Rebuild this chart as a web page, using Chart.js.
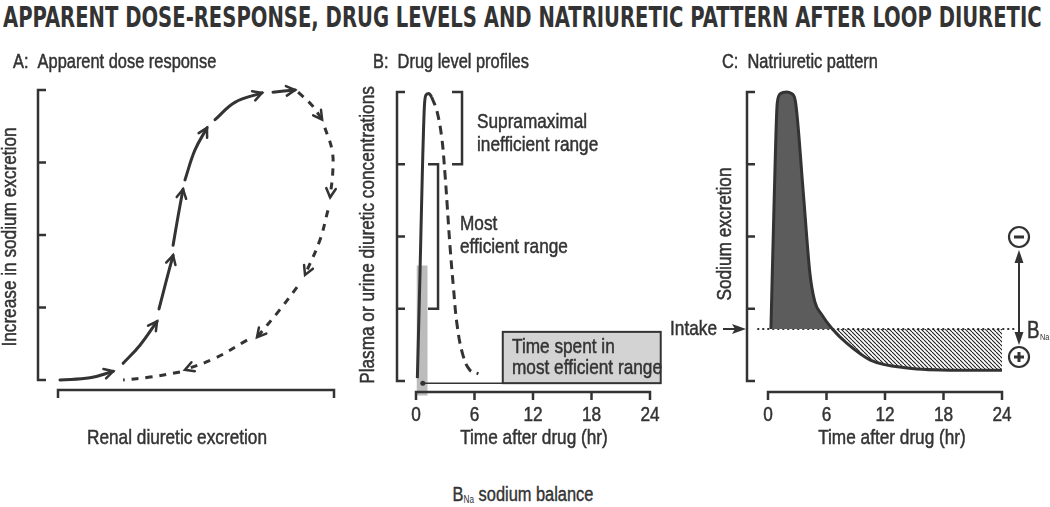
<!DOCTYPE html>
<html>
<head>
<meta charset="utf-8">
<script src="https://cdn.jsdelivr.net/npm/chart.js@4.4.1/dist/chart.umd.min.js"></script>
<style>
  html, body { margin: 0; padding: 0; background: #fff; }
  #page { position: relative; width: 1050px; height: 507px; overflow: hidden; color: #333; }
  #page canvas { position: absolute; }
  #title { position: absolute; left: 3px; top: 2px; white-space: nowrap; font-weight: bold;
           font-family: "DejaVu Sans Condensed", sans-serif;
           font-size: 28px; line-height: 32px; transform-origin: 0 0; }
  #foot { position: absolute; left: 523px; top: 483px; white-space: nowrap; font-size: 20px;
          font-family: "Liberation Sans", Arial, sans-serif; -webkit-text-stroke: 0.4px #333;
          transform: translateX(-50%) scaleX(0.82); }
  #foot sub { font-size: 10px; vertical-align: -2px; -webkit-text-stroke: 0; }
</style>
</head>
<body>
<div id="page">
  <div id="title">APPARENT DOSE-RESPONSE, DRUG LEVELS AND NATRIURETIC PATTERN AFTER LOOP DIURETIC</div>
  <canvas id="panelA"></canvas>
  <canvas id="panelB"></canvas>
  <canvas id="panelC"></canvas>
  <div id="foot">B<sub>Na</sub> sodium balance</div>
</div>
<script>
// ── DATA ──────────────────────────────────
// A: apparent dose response (null = break where an arrowhead sits)
const riseX = [0.07, 1.16, 2.0, null, 2.36, 2.97, 3.59, null, 3.66, 3.91, 4.17, null, 4.17, 4.35, 4.53, null,
               4.60, 4.96, 5.40, null, 5.69, 6.41, 7.39, null, 7.79, 8.59];
const riseY = [0, 0.03, 0.12, null, 0.23, 0.48, 0.81, null, 0.98, 1.35, 1.72, null, 1.86, 2.26, 2.63, null,
               2.76, 3.17, 3.48, null, 3.59, 3.83, 3.96, null, 3.97, 4.0];
const fallX = [8.70, 9.20, 9.57, null, 9.67, 9.93, 9.96, 9.86, null, 9.78, 9.49, 8.95, null, 8.66, 8.04, 7.21, null,
               6.85, 5.69, 4.60, null, 4.42, 3.33, 2.36];
const fallY = [3.97, 3.79, 3.59, null, 3.48, 3.17, 2.90, 2.52, null, 2.34, 1.93, 1.45, null, 1.28, 0.97, 0.59, null,
               0.55, 0.30, 0.14, null, 0.11, 0.04, 0.0];
const doseTicksX = [0, 10];
const levelTicks = [0, 1, 2, 3, 4];
const hourTicks = [0, 6, 12, 18, 24];

// B: drug level profiles
const plasmaT = [0.14, 0.41, 0.65, 0.86, 1.03, 1.33, 1.6];
const plasmaC = [0.04, 1.49, 2.88, 3.80, 3.96, 3.98, 3.93];
const urineT = [1.6, 2.12, 2.63, 2.97, 3.21, 3.49, 3.83, 4.24, 4.85, 5.54, 6.4];
const urineC = [3.93, 3.75, 3.38, 2.87, 2.41, 1.86, 1.31, 0.75, 0.34, 0.15, 0.10];
const supraRange = [3, 4];
const efficientRange = [1, 3];
const efficientTime = [0.05, 1.2];
const efficientBand = [-0.2, 1.6];
const efficientMark = [0.7, -0.03];

// C: natriuretic pattern
const natriT = [0.3, 0.65, 0.95, 1.3, 1.9, 2.4, 2.8, 3.6, 4.3, 4.8, 5.5, 6.6, 8.1, 10.5, 14.3, 19.4, 24];
const natriY = [0.72, 2.6, 3.85, 3.98, 4.0, 3.98, 3.88, 2.64, 1.49, 1.1, 0.92, 0.72, 0.52, 0.29, 0.18, 0.15, 0.15];
const intakeLevel = 0.72;

// ── HELPERS ───────────────────────────────
const INK = '#333333';
const FONT = '"Liberation Sans", Arial, sans-serif';
const NARROW = 0.82;

function pts(xs, ys) {
  let lastX = 0;
  return xs.map((x, i) => {
    if (x !== null) lastX = x;
    return { x: lastX, y: ys[i] };
  });
}

// narrow text: Arial metrics squeezed like Arial Narrow, lightly stroked
function text(ctx, str, x, y, size, o = {}) {
  ctx.save();
  ctx.fillStyle = INK;
  ctx.strokeStyle = INK;
  ctx.lineWidth = 0.5;
  ctx.font = `${o.weight || 'normal'} ${size}px ${FONT}`;
  ctx.textAlign = o.align || 'left';
  ctx.textBaseline = 'middle';
  ctx.translate(x, y);
  if (o.rotate) ctx.rotate(o.rotate);
  ctx.scale(NARROW, 1);
  ctx.fillText(str, 0, 0);
  if (size > 12) ctx.strokeText(str, 0, 0);
  ctx.restore();
}

// value v0 at pixel p0 and v1 at pixel p1, canvas runs 0..size
function scaleRange(v0, v1, p0, p1, size) {
  const k = (v1 - v0) / (p1 - p0);
  const a = v0 - p0 * k, b = v0 + (size - p0) * k;
  return a < b ? { min: a, max: b } : { min: b, max: a };
}

// brackets, ticks and panel texts (texts given in page coordinates)
const frame = {
  id: 'frame',
  afterDatasetsDraw(chart, _a, o) {
    const { ctx, scales: { x, y } } = chart;
    ctx.save();
    ctx.strokeStyle = INK;
    ctx.lineWidth = 2.5;
    ctx.setLineDash([]);
    const bx = x.getPixelForValue(o.xTicks[0]) - o.yGap;
    const yTop = y.getPixelForValue(o.yTicks[o.yTicks.length - 1]);
    const yBot = y.getPixelForValue(o.yTicks[0]);
    ctx.beginPath();
    ctx.moveTo(bx, yTop); ctx.lineTo(bx, yBot);
    o.yTicks.forEach(v => {
      const py = y.getPixelForValue(v);
      ctx.moveTo(bx - 1.25, py); ctx.lineTo(bx + 8, py);
    });
    const ay = y.getPixelForValue(0) + o.xGap;
    const x0 = x.getPixelForValue(o.xTicks[0]);
    const x1 = x.getPixelForValue(o.xTicks[o.xTicks.length - 1]);
    ctx.moveTo(x0 - 1.25, ay); ctx.lineTo(x1 + 1.25, ay);
    o.xTicks.forEach(v => {
      const px = x.getPixelForValue(v);
      ctx.moveTo(px, ay); ctx.lineTo(px, ay + 8);
    });
    ctx.stroke();
    if (o.xLabels) o.xTicks.forEach(v => text(ctx, String(v), x.getPixelForValue(v), ay + 23, 21, { align: 'center' }));
    (o.texts || []).forEach(t => text(ctx, t.t, t.x - o.rect.left, t.y - o.rect.top, t.size || 21, t));
    ctx.restore();
  }
};

// open arrowheads at the end of each line piece
const arrowHeads = {
  id: 'arrowHeads',
  afterDatasetsDraw(chart) {
    const ctx = chart.ctx;
    chart.data.datasets.forEach((ds, i) => {
      if (!ds.arrowHeads) return;
      const p = chart.getDatasetMeta(i).data;
      ctx.save();
      ctx.strokeStyle = INK;
      ctx.lineWidth = 2.5;
      ctx.setLineDash([]);
      ctx.lineCap = 'round';
      p.forEach((pt, j) => {
        if (pt.skip) return;
        const nxt = p[j + 1];
        if (nxt && !nxt.skip) return;
        if (!nxt && ds.noLastArrow) return;
        const prv = p[j - 1];
        if (!prv || prv.skip) return;
        const ang = Math.atan2(pt.y - prv.y, pt.x - prv.x);
        const L = 10, spread = 0.5;
        ctx.beginPath();
        ctx.moveTo(pt.x - L * Math.cos(ang - spread), pt.y - L * Math.sin(ang - spread));
        ctx.lineTo(pt.x, pt.y);
        ctx.lineTo(pt.x - L * Math.cos(ang + spread), pt.y - L * Math.sin(ang + spread));
        ctx.stroke();
      });
      ctx.restore();
    });
  }
};

function makePanel(id, rect, xr, yr, datasets, frameOpts, extraPlugins) {
  const cv = document.getElementById(id);
  cv.width = rect.width; cv.height = rect.height;
  cv.style.left = rect.left + 'px'; cv.style.top = rect.top + 'px';
  const xs = scaleRange(xr[0], xr[1], rect.x0 - rect.left, rect.x1 - rect.left, rect.width);
  const ys = scaleRange(yr[0], yr[1], rect.y0 - rect.top, rect.y1 - rect.top, rect.height);
  return new Chart(cv, {
    type: 'line',
    data: { datasets },
    options: {
      responsive: false,
      animation: false,
      devicePixelRatio: 1,
      layout: { padding: 0 },
      elements: { point: { radius: 0 } },
      scales: {
        x: { type: 'linear', display: false, min: xs.min, max: xs.max },
        y: { type: 'linear', display: false, min: ys.min, max: ys.max }
      },
      plugins: {
        legend: { display: false },
        tooltip: { enabled: false },
        frame: Object.assign({ rect }, frameOpts)
      }
    },
    plugins: [frame].concat(extraPlugins || [])
  });
}

// ── PANEL A ───────────────────────────────
const rectA = { left: 0, top: 40, width: 350, height: 420, x0: 58, x1: 334, y0: 380, y1: 90 };
makePanel('panelA', rectA, [0, 10], [0, 4], [
  { data: pts(riseX, riseY), borderColor: INK, borderWidth: 3, tension: 0.4, fill: false, spanGaps: false,
    borderCapStyle: 'round', arrowHeads: true },
  { data: pts(fallX, fallY), borderColor: INK, borderWidth: 3, tension: 0.4, fill: false, spanGaps: false,
    borderDash: [7, 7], arrowHeads: true, noLastArrow: true }
], {
  yTicks: levelTicks, xTicks: doseTicksX, yGap: 20, xGap: 10, xLabels: false,
  texts: [
    { t: 'A:  Apparent dose response', x: 13, y: 62, size: 20 },
    { t: 'Increase in sodium excretion', x: 10, y: 237, rotate: -Math.PI / 2, align: 'center' },
    { t: 'Renal diuretic excretion', x: 177, y: 438, align: 'center' }
  ]
}, [arrowHeads]);

// ── PANEL B ───────────────────────────────
const rectB = { left: 355, top: 40, width: 330, height: 420, x0: 416, x1: 650, y0: 381, y1: 92 };
const drugNotes = {
  id: 'drugNotes',
  beforeDatasetsDraw(chart) {
    // box and its link sit under the curves
    const { ctx, scales: { x, y } } = chart;
    const my = y.getPixelForValue(efficientMark[1]);
    const bx0 = x.getPixelForValue(8.9), bx1 = x.getPixelForValue(25.1);
    const by1 = y.getPixelForValue(0.68);
    ctx.save();
    ctx.fillStyle = '#d3d3d3';
    ctx.fillRect(bx0, by1, bx1 - bx0, my - by1);
    ctx.strokeStyle = INK;
    ctx.lineWidth = 2;
    ctx.strokeRect(bx0, by1, bx1 - bx0, my - by1);
    ctx.restore();
  },
  afterDatasetsDraw(chart) {
    const { ctx, scales: { x, y } } = chart;
    ctx.save();
    ctx.strokeStyle = INK;
    ctx.lineWidth = 2.5;
    const bracket = (xv, range) => {
      const px = x.getPixelForValue(xv);
      const t = y.getPixelForValue(range[1]), b = y.getPixelForValue(range[0]);
      ctx.beginPath();
      ctx.moveTo(px - 10, t); ctx.lineTo(px, t); ctx.lineTo(px, b); ctx.lineTo(px - 10, b);
      ctx.stroke();
    };
    bracket(4.72, supraRange);
    bracket(2.26, efficientRange);
    const my = y.getPixelForValue(efficientMark[1]);
    const mx = x.getPixelForValue(efficientMark[0]);
    ctx.lineWidth = 1.5;
    ctx.beginPath(); ctx.moveTo(mx, my); ctx.lineTo(x.getPixelForValue(8.9), my); ctx.stroke();
    ctx.fillStyle = INK;
    ctx.beginPath(); ctx.arc(mx, my, 2.5, 0, Math.PI * 2); ctx.fill();
    ctx.restore();
  }
};
makePanel('panelB', rectB, [0, 24], [0, 4], [
  { data: pts(plasmaT, plasmaC), borderColor: INK, borderWidth: 3, cubicInterpolationMode: 'monotone', fill: false },
  { data: pts(urineT, urineC), borderColor: INK, borderWidth: 3, tension: 0.4, fill: false, borderDash: [9, 6] },
  { data: [{ x: efficientTime[0], y: efficientBand[1] }, { x: efficientTime[1], y: efficientBand[1] }], borderWidth: 0,
    backgroundColor: '#bcbcbc', fill: { value: efficientBand[0] }, order: 10 }
], {
  yTicks: levelTicks, xTicks: hourTicks, yGap: 19, xGap: 11, xLabels: true,
  texts: [
    { t: 'B:  Drug level profiles', x: 373, y: 62, size: 20 },
    { t: 'Plasma or urine diuretic concentrations', x: 368, y: 235, rotate: -Math.PI / 2, align: 'center' },
    { t: 'Time after drug (hr)', x: 534, y: 438, align: 'center' },
    { t: 'Supramaximal', x: 477, y: 122 },
    { t: 'inefficient range', x: 477, y: 145 },
    { t: 'Most', x: 460, y: 224 },
    { t: 'efficient range', x: 460, y: 247 },
    { t: 'Time spent in', x: 512, y: 347 },
    { t: 'most efficient range', x: 512, y: 368 }
  ]
}, [drugNotes]);

// ── PANEL C ───────────────────────────────
const rectC = { left: 640, top: 40, width: 410, height: 420, x0: 768, x1: 1002, y0: 381, y1: 92 };
const cvC = document.getElementById('panelC');
const hatch = (() => {
  const c = document.createElement('canvas');
  c.width = 4; c.height = 4;
  const g = c.getContext('2d');
  g.strokeStyle = '#222';
  g.lineWidth = 1.1;
  [-4, 0, 4].forEach(o => { g.beginPath(); g.moveTo(o, 0); g.lineTo(o + 4, 4); g.stroke(); });
  return cvC.getContext('2d').createPattern(c, 'repeat');
})();

const balanceNotes = {
  id: 'balanceNotes',
  beforeDatasetsDraw(chart) {
    const { ctx, scales: { x, y } } = chart;
    const iy = y.getPixelForValue(intakeLevel);
    ctx.save();
    ctx.strokeStyle = INK;
    ctx.lineWidth = 2;
    ctx.setLineDash([2, 3]);
    ctx.beginPath();
    ctx.moveTo(x.getPixelForValue(-1.1), iy); ctx.lineTo(x.getPixelForValue(25.4), iy);
    ctx.stroke();
    ctx.restore();
  },
  afterDatasetsDraw(chart) {
    const { ctx, scales: { y } } = chart;
    const L = chart.options.plugins.frame.rect.left;
    const iy = y.getPixelForValue(intakeLevel);
    ctx.save();
    ctx.strokeStyle = INK; ctx.fillStyle = INK; ctx.lineWidth = 2;
    // intake arrow
    text(ctx, 'Intake', 717 - L, iy, 21, { align: 'right' });
    ctx.beginPath(); ctx.moveTo(723 - L, iy); ctx.lineTo(735 - L, iy); ctx.stroke();
    ctx.beginPath(); ctx.moveTo(746 - L, iy); ctx.lineTo(732 - L, iy - 5); ctx.lineTo(735 - L, iy); ctx.lineTo(732 - L, iy + 5); ctx.closePath(); ctx.fill();
    // balance double arrow
    const ax = 1019 - L, top = iy - 79, bot = iy + 16;
    ctx.lineWidth = 2;
    ctx.beginPath(); ctx.moveTo(ax, top + 8); ctx.lineTo(ax, bot - 8); ctx.stroke();
    ctx.beginPath(); ctx.moveTo(ax, top); ctx.lineTo(ax - 4.5, top + 13); ctx.lineTo(ax + 4.5, top + 13); ctx.closePath(); ctx.fill();
    ctx.beginPath(); ctx.moveTo(ax, bot); ctx.lineTo(ax - 4.5, bot - 13); ctx.lineTo(ax + 4.5, bot - 13); ctx.closePath(); ctx.fill();
    const sign = (cy, plus) => {
      ctx.lineWidth = 2.2;
      ctx.beginPath(); ctx.arc(ax, cy, 10, 0, Math.PI * 2); ctx.stroke();
      ctx.lineWidth = 3;
      ctx.beginPath(); ctx.moveTo(ax - 5, cy); ctx.lineTo(ax + 5, cy);
      if (plus) { ctx.moveTo(ax, cy - 5); ctx.lineTo(ax, cy + 5); }
      ctx.stroke();
    };
    sign(iy - 92, false);
    sign(iy + 28, true);
    text(ctx, 'B', 1027 - L, iy + 3, 23);
    text(ctx, 'Na', 1040 - L, iy + 9, 9);
    ctx.restore();
  }
};

makePanel('panelC', rectC, [0, 24], [0, 4], [
  { data: pts(natriT, natriY), borderColor: INK, borderWidth: 3, cubicInterpolationMode: 'monotone',
    borderJoinStyle: 'round',
    fill: { target: { value: intakeLevel }, above: '#5c5c5c', below: hatch } }
], {
  yTicks: levelTicks, xTicks: hourTicks, yGap: 21, xGap: 11, xLabels: true,
  texts: [
    { t: 'C:  Natriuretic pattern', x: 722, y: 62, size: 20 },
    { t: 'Sodium excretion', x: 725, y: 234, rotate: -Math.PI / 2, align: 'center' },
    { t: 'Time after drug (hr)', x: 892, y: 438, align: 'center' }
  ]
}, [balanceNotes]);

// fit the heading to the figure width
const title = document.getElementById('title');
title.style.transform = `scaleX(${1039 / title.scrollWidth})`;
</script>
</body>
</html>
